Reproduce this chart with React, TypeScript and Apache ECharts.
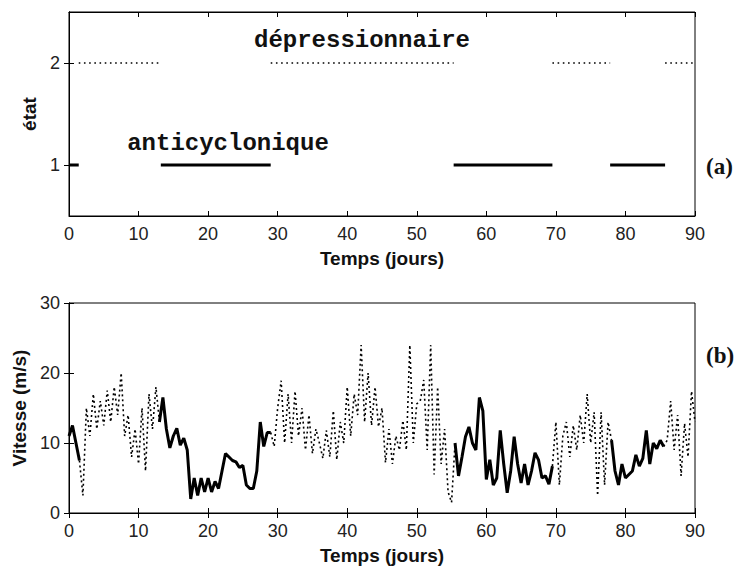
import React, { useEffect, useRef } from "react";
import * as echarts from "echarts";

// ---------------- data ----------------
const xTicks = [0, 10, 20, 30, 40, 50, 60, 70, 80, 90];
const stateTicks = [1, 2];
const speedTicks = [0, 10, 20, 30];
// time (days) at which the weather state changes
const stateBreaks = [0, 1.4, 13.2, 29, 55.3, 69.5, 77.8, 85.7, 90];
// state on each interval: 1 = anticyclonique, 2 = dépressionnaire
const stateSeq = [1, 2, 1, 2, 1, 2, 1, 2];
const timeStep = 0.5; // days
// wind speed (m/s), every half day from day 0 to day 90
const speed = [
  11, 12.5, 10, 7.5, 2.5, 15, 11, 17, 12, 16,
  12.5, 17.5, 13, 18, 14, 20, 11, 14, 8, 12,
  7, 15, 6, 17, 12, 18, 13, 16.5, 12, 9.3,
  11, 12.1, 9.7, 10.7, 9, 2, 5, 2.5, 5, 3,
  5, 3, 4.5, 3.5, 6, 8.5, 8, 7.5, 7.3, 6.5,
  6.8, 4, 3.5, 3.5, 6, 13, 9.5, 11.5, 11.5, 9.5,
  15, 18.9, 10, 17, 10, 17.4, 11, 15, 9, 14,
  8.5, 12, 10, 7.8, 11.8, 8, 14.6, 7.6, 13, 10,
  18, 11, 17, 14, 24, 13, 20, 12.5, 18, 12.3,
  15, 7.2, 12, 7, 11, 9, 13.2, 9, 24, 10,
  15.6, 16, 19, 9, 24, 5.5, 18, 7, 12, 3,
  1.5, 10, 5.3, 8, 10.9, 12.3, 10, 9, 16.5, 14.6,
  4.8, 7.6, 4, 5, 11.8, 7, 2.9, 6, 10.9, 7,
  4.3, 7, 4, 6, 8.6, 7.6, 5, 5.3, 4.1, 6.7,
  13, 4, 11, 13, 8, 12.5, 9, 14, 10, 17,
  10, 14.4, 2.5, 14.4, 4, 13, 10.4, 6, 4, 7,
  5, 5.5, 6, 8.3, 6.7, 7.8, 11.8, 7, 10, 9.2,
  10.4, 9.5, 10.4, 16, 9, 14, 5.3, 12.8, 8, 17.4,
  13,
];
const stateNames = ["anticyclonique", "dépressionnaire"];
const axisNames = { time: "Temps (jours)", state: "état", speed: "Vitesse (m/s)" };
const panelTags = ["(a)", "(b)"];

// ---------------- helpers ----------------
function stateAt(t: number): number {
  for (let k = 0; k < stateSeq.length; k++) {
    if (t >= stateBreaks[k] && t < stateBreaks[k + 1]) return stateSeq[k];
  }
  return stateSeq[stateSeq.length - 1];
}

function stateLine(s: number) {
  const out: any[] = [];
  stateSeq.forEach((st, k) => {
    if (st !== s) return;
    out.push([stateBreaks[k], s], [stateBreaks[k + 1], s], [stateBreaks[k + 1], "-"]);
  });
  return out;
}

const times = speed.map((_, i) => i * timeStep);
const segState = (i: number) => stateAt((times[i] + times[i + 1]) / 2);
function speedLine(s: number) {
  const n = times.length;
  return times.map((t, i) => {
    const use = (i > 0 && segState(i - 1) === s) || (i < n - 1 && segState(i) === s);
    return [t, use ? speed[i] : "-"];
  });
}

const FONT = "'Liberation Sans', Arial, sans-serif";
const lbl = { fontFamily: FONT, fontSize: 18, color: "#222" };
const nameStyle = { fontFamily: FONT, fontSize: 19, fontWeight: "bold" as const, color: "#111" };
const axisLine = { show: true, lineStyle: { color: "#000", width: 1 } };
const tick = { show: true, inside: true, length: 5, lineStyle: { color: "#000", width: 1 } };

export default function App() {
  const ref = useRef<HTMLDivElement>(null);
  useEffect(() => {
    if (!ref.current) return;
    const chart = echarts.init(ref.current, undefined, { renderer: "svg" });
    const xBase = (grid: number, pos: "bottom" | "top", withLabels: boolean) => ({
      type: "value",
      gridIndex: grid,
      position: pos,
      min: xTicks[0],
      max: xTicks[xTicks.length - 1],
      interval: 10,
      axisLine,
      axisTick: tick,
      splitLine: { show: false },
      axisLabel: withLabels ? { ...lbl, margin: 9 } : { show: false },
      name: withLabels ? axisNames.time : "",
      nameLocation: "middle",
      nameGap: 33,
      nameTextStyle: nameStyle,
    });
    chart.setOption({
      animation: false,
      backgroundColor: "#fff",
      grid: [
        { left: 69, top: 12, width: 626, height: 204, show: true, borderColor: "#000", borderWidth: 1 },
        { left: 69, top: 303, width: 626, height: 210, show: true, borderColor: "#000", borderWidth: 1 },
      ],
      xAxis: [xBase(0, "bottom", true), xBase(0, "top", false), xBase(1, "bottom", true), xBase(1, "top", false)],
      yAxis: [
        {
          type: "value", gridIndex: 0, position: "left", min: 0.5, max: 2.5,
          axisLine, axisTick: { ...tick, customValues: stateTicks }, splitLine: { show: false },
          axisLabel: { ...lbl, margin: 9, customValues: stateTicks },
          name: axisNames.state, nameLocation: "middle", nameGap: 27, nameTextStyle: nameStyle,
        },
        {
          type: "value", gridIndex: 0, position: "right", min: 0.5, max: 2.5,
          axisLine, axisTick: { ...tick, customValues: stateTicks }, splitLine: { show: false },
          axisLabel: { show: false, customValues: stateTicks },
        },
        {
          type: "value", gridIndex: 1, position: "left", min: speedTicks[0], max: speedTicks[speedTicks.length - 1], interval: 10,
          axisLine, axisTick: tick, splitLine: { show: false },
          axisLabel: { ...lbl, margin: 9 },
          name: axisNames.speed, nameLocation: "middle", nameGap: 35, nameTextStyle: nameStyle,
        },
        {
          type: "value", gridIndex: 1, position: "right", min: 0, max: 30, interval: 10,
          axisLine, axisTick: tick, splitLine: { show: false }, axisLabel: { show: false },
        },
      ],
      series: [
        {
          type: "line", xAxisIndex: 0, yAxisIndex: 0, data: stateLine(1), showSymbol: false,
          lineStyle: { color: "#000", width: 3 }, connectNulls: false,
        },
        {
          type: "line", xAxisIndex: 0, yAxisIndex: 0, data: stateLine(2), showSymbol: false,
          lineStyle: { color: "#000", width: 1.6, type: [1.6, 3.6] }, connectNulls: false,
        },
        {
          type: "line", xAxisIndex: 2, yAxisIndex: 2, data: speedLine(2), showSymbol: false,
          lineStyle: { color: "#000", width: 1.6, type: [2, 3] }, connectNulls: false,
        },
        {
          type: "line", xAxisIndex: 2, yAxisIndex: 2, data: speedLine(1), showSymbol: false,
          lineStyle: { color: "#000", width: 3 }, connectNulls: false,
        },
      ],
      graphic: [
        {
          type: "text", x: 362, y: 40,
          style: { text: stateNames[1], font: "bold 24px 'Liberation Mono', 'Courier New', monospace", fill: "#111", align: "center", verticalAlign: "middle" },
        },
        {
          type: "text", x: 228, y: 143,
          style: { text: stateNames[0], font: "bold 24px 'Liberation Mono', 'Courier New', monospace", fill: "#111", align: "center", verticalAlign: "middle" },
        },
        {
          type: "text", x: 706, y: 166,
          style: { text: panelTags[0], font: "bold 23px 'Liberation Serif', 'Times New Roman', serif", fill: "#111", align: "left", verticalAlign: "middle" },
        },
        {
          type: "text", x: 706, y: 355,
          style: { text: panelTags[1], font: "bold 23px 'Liberation Serif', 'Times New Roman', serif", fill: "#111", align: "left", verticalAlign: "middle" },
        },
      ],
    });
    return () => chart.dispose();
  }, []);
  return <div ref={ref} style={{ position: "absolute", left: 0, top: 0, width: 753, height: 570 }} />;
}
